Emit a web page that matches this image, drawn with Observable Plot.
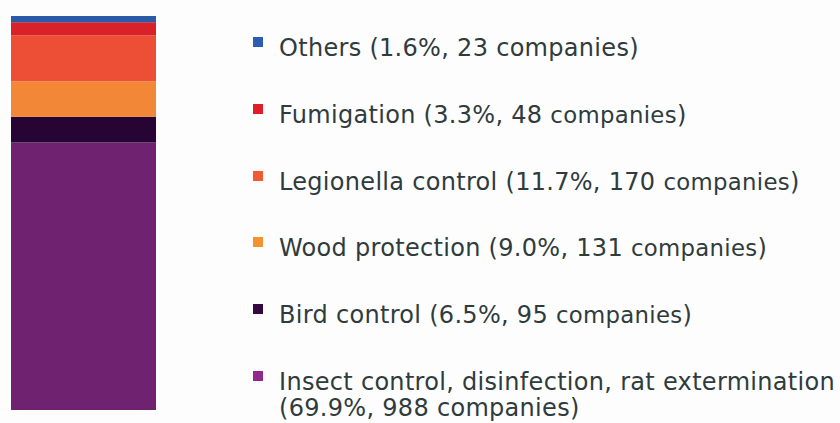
<!DOCTYPE html>
<html>
<head>
<meta charset="utf-8">
<script src="https://cdn.jsdelivr.net/npm/d3@7"></script>
<script src="https://cdn.jsdelivr.net/npm/@observablehq/plot@0.6"></script>
<style>
  html, body { margin: 0; padding: 0; background: #fdfdfd; }
  #wrap { position: relative; width: 840px; height: 423px; overflow: hidden; font-family: "DejaVu Sans", Verdana, sans-serif; color: #2f3b3c; }
  #chart { position: absolute; left: 0; top: 0; }
  .mk { position: absolute; width: 10px; height: 10px; }
  .tx { position: absolute; font-size: 24px; line-height: 26px; white-space: nowrap; letter-spacing: 0.3px; }
  .sm { font-size: 22.8px; }
</style>
</head>
<body>
<div id="wrap"><div id="chart"></div></div>
<script>
// Data (bottom of stack first)
const categories = ["Insect control, disinfection, rat extermination", "Bird control", "Wood protection", "Legionella control", "Fumigation", "Others"];
const shares = ["69.9%", "6.5%", "9.0%", "11.7%", "3.3%", "1.6%"];
const companies = [988, 95, 131, 170, 48, 23];
const barColors = ["#6e2270", "#260434", "#f28737", "#ec4f36", "#d82129", "#2b5ba8"];
const legendColors = ["#8f2b8c", "#35093f", "#f7912f", "#f05a38", "#e21d2b", "#2c5db0"];
const smallCompanies = [false, true, true, true, true, false];

const data = categories.map((c, i) => ({category: c, companies: companies[i], group: "all"}));

const chart = Plot.plot({
  width: 170,
  height: 423,
  marginLeft: 11,
  marginRight: 14,
  marginTop: 16,
  marginBottom: 13,
  style: {background: "transparent"},
  x: {axis: null, domain: ["all"], padding: 0},
  y: {axis: null, domain: [0, d3.sum(companies)]},
  color: {domain: categories, range: barColors},
  marks: [
    Plot.barY(data, {x: "group", y: "companies", fill: "category", inset: 0})
  ]
});
document.getElementById("chart").appendChild(chart);

// Legend (top row = Others)
const wrap = document.getElementById("wrap");
const order = [5, 4, 3, 2, 1, 0];
order.forEach((idx, row) => {
  const center = 47 + row * 66.8;
  const mk = document.createElement("div");
  mk.className = "mk";
  mk.style.left = "253px";
  mk.style.top = Math.round(center - 10) + "px";
  mk.style.background = legendColors[idx];
  wrap.appendChild(mk);
  const tx = document.createElement("div");
  tx.className = "tx";
  tx.style.left = "279px";
  tx.style.top = Math.round(center - 12) + "px";
  const comp = smallCompanies[idx] ? '<span class="sm">companies</span>' : 'companies';
  const tail = `(${shares[idx]}, ${companies[idx]} ${comp})`;
  if (idx === 0) {
    tx.innerHTML = `${categories[idx]}<br>${tail}`;
  } else {
    tx.innerHTML = `${categories[idx]} ${tail}`;
  }
  wrap.appendChild(tx);
});
</script>
</body>
</html>
